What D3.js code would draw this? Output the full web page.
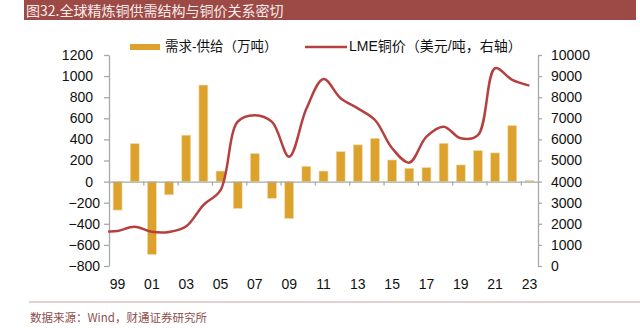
<!DOCTYPE html>
<html>
<head>
<meta charset="utf-8">
<script src="https://cdn.jsdelivr.net/npm/d3@7"></script>
<style>
  body { margin: 0; background: #fff; }
  svg { display: block; }
</style>
</head>
<body>
<script>
// years on the category axis
var years = d3.range(1999, 2024)
var xLabels = ["99", "01", "03", "05", "07", "09", "11", "13", "15", "17", "19", "21", "23"]

// 需求-供给 (万吨), left axis
var gap = [-270, 360, -690, -125, 440, 915, 100, -255, 265, -158, -350, 145,
    100, 284, 348, 410, 205, 126, 133, 363, 158, 294, 272, 531, 10]

// LME 铜价 (美元/吨), right axis
var lmeYears = [1998.45, 1999, 2000, 2001, 2002, 2003, 2004, 2005, 2006, 2007, 2008, 2009, 2010,
    2011, 2012, 2013, 2014, 2015, 2016, 2017, 2018, 2019, 2020, 2021, 2022, 2023]
var lmePrice = [1640, 1660, 1860, 1620, 1610, 1880, 2890, 3600, 6840, 7150, 6830, 5180, 7450,
    8860, 7950, 7470, 6920, 5580, 4900, 6130, 6600, 6050, 6200, 9370, 8820, 8550]

var leftTicks = d3.range(-800, 1201, 200)
var rightTicks = d3.range(0, 10001, 1000)

var width = 640
var height = 328
var margin = { top: 55, right: 102, bottom: 62, left: 109 }

var barColor = "#dca22b"
var lineColor = "#b5403f"
var axisColor = "#a9a9a9"
var latin = "'Liberation Sans', Arial, 'Noto Sans CJK SC', sans-serif"

var svg = d3.select("body")
    .append("svg")
    .attr("width", width)
    .attr("height", height)

// title bar
svg.append("rect")
    .attr("x", 24).attr("y", 0)
    .attr("width", 612).attr("height", 20)
    .attr("fill", "#9d4a47")
svg.append("text")
    .attr("x", 26).attr("y", 16)
    .attr("font-family", "'Noto Sans CJK SC', sans-serif")
    .attr("font-size", 14)
    .attr("fill", "#f6ecea")
    .text("图32.全球精炼铜供需结构与铜价关系密切")

var x = d3.scaleBand()
    .domain(years)
    .range([margin.left, width - margin.right])
    .paddingInner(0.48)
    .paddingOuter(0.24)

var xLine = d3.scaleLinear()
    .domain([1998.5, 2023.5])
    .range([margin.left, width - margin.right])

var yLeft = d3.scaleLinear()
    .domain([-800, 1200])
    .range([height - margin.bottom, margin.top])

var yRight = d3.scaleLinear()
    .domain([0, 10000])
    .range([height - margin.bottom, margin.top])

// bars
svg.append("g")
    .selectAll("rect")
    .data(gap)
    .join("rect")
    .attr("x", function (d, i) { return x(years[i]) })
    .attr("width", x.bandwidth())
    .attr("y", function (d) { return yLeft(Math.max(0, d)) })
    .attr("height", function (d) { return Math.abs(yLeft(d) - yLeft(0)) })
    .attr("fill", barColor)
    .attr("stroke", "#f1dcae")
    .attr("stroke-width", 0.6)

// category axis on the zero line, ticks between every second pair of bars
var ejeX = d3.axisBottom(xLine)
    .tickValues(d3.range(2000.5, 2023, 2))
    .tickSize(4)
    .tickSizeOuter(0)
    .tickFormat("")
var gx = svg.append("g")
    .attr("transform", "translate(0," + yLeft(0) + ")")
    .call(ejeX)
gx.selectAll("path, line").attr("stroke", axisColor).attr("stroke-width", 1.3)

svg.append("g")
    .selectAll("text")
    .data(xLabels)
    .join("text")
    .attr("x", function (d, i) { return x(years[i * 2]) + x.bandwidth() / 2 })
    .attr("y", 289)
    .attr("text-anchor", "middle")
    .attr("font-family", latin)
    .attr("font-size", 14)
    .attr("fill", "#111")
    .text(function (d) { return d })

// left axis
var ejeY = d3.axisLeft(yLeft)
    .tickValues(leftTicks)
    .tickSize(5)
    .tickSizeOuter(0)
    .tickFormat(d3.format("d"))
var gl = svg.append("g")
    .attr("transform", "translate(" + margin.left + ",0)")
    .call(ejeY)
gl.selectAll("path, line").attr("stroke", axisColor).attr("stroke-width", 1.3)
gl.selectAll("text")
    .attr("x", function (d) { return d < 0 ? -9 : -16 })
    .attr("font-family", latin)
    .attr("font-size", 14)
    .attr("fill", "#111")

// right axis
var ejeY2 = d3.axisRight(yRight)
    .tickValues(rightTicks)
    .tickSize(4)
    .tickSizeOuter(0)
    .tickFormat(d3.format("d"))
var gr = svg.append("g")
    .attr("transform", "translate(" + (width - margin.right) + ",0)")
    .call(ejeY2)
gr.selectAll("path, line").attr("stroke", axisColor).attr("stroke-width", 1.3)
gr.selectAll("text")
    .attr("x", 13)
    .attr("font-family", latin)
    .attr("font-size", 14)
    .attr("fill", "#111")

// price line
var lineGenerator = d3.line()
    .x(function (d, i) { return xLine(lmeYears[i]) })
    .y(function (d) { return yRight(d) })
    .curve(d3.curveCatmullRom.alpha(0.5))

svg.append("path")
    .attr("d", lineGenerator(lmePrice))
    .attr("stroke", lineColor)
    .attr("stroke-width", 2.5)
    .attr("fill", "none")

// legend
svg.append("rect")
    .attr("x", 130).attr("y", 44)
    .attr("width", 30).attr("height", 6)
    .attr("fill", barColor)
svg.append("text")
    .attr("x", 165).attr("y", 51)
    .attr("font-family", latin)
    .attr("font-size", 13.5)
    .attr("fill", "#111")
    .text("需求-供给（万吨）")
svg.append("line")
    .attr("x1", 305).attr("x2", 347)
    .attr("y1", 47).attr("y2", 47)
    .attr("stroke", lineColor)
    .attr("stroke-width", 2.5)
svg.append("text")
    .attr("x", 349).attr("y", 51)
    .attr("font-family", latin)
    .attr("font-size", 14)
    .attr("fill", "#111")
    .text("LME铜价（美元/吨，右轴）")

// source
svg.append("line")
    .attr("x1", 29).attr("x2", 640)
    .attr("y1", 302).attr("y2", 302)
    .attr("stroke", "#c9a3a0")
    .attr("stroke-width", 1)
svg.append("text")
    .attr("x", 30).attr("y", 322)
    .attr("font-family", "'Noto Sans CJK SC', sans-serif")
    .attr("font-size", 11.5)
    .attr("fill", "#8e4f4b")
    .text("数据来源：Wind，财通证券研究所")
</script>
</body>
</html>
